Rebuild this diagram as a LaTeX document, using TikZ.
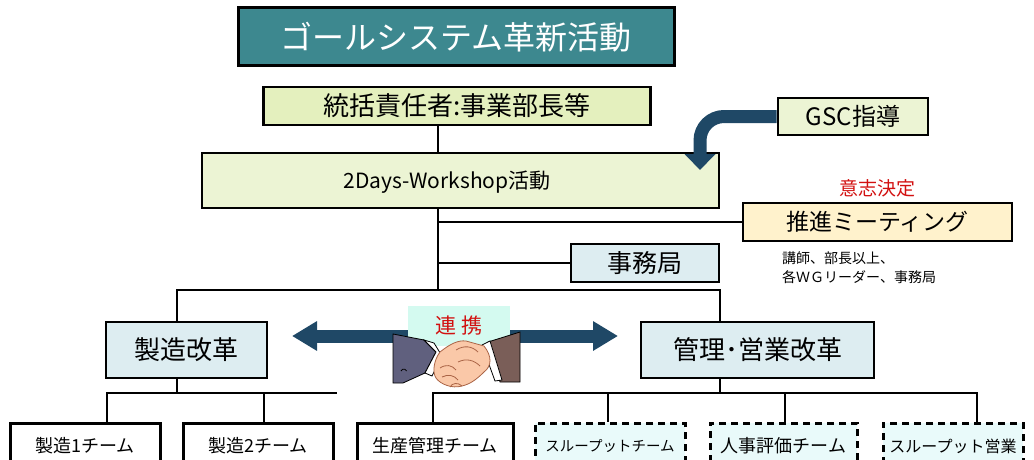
\documentclass[tikz,border=0pt]{standalone}
\usepackage{fontspec}
\setmainfont{Noto Sans CJK JP}
\usetikzlibrary{arrows.meta}

\definecolor{titlefill}{RGB}{61,136,143}
\definecolor{leadfill}{RGB}{228,240,190}
\definecolor{wsfill}{RGB}{236,244,212}
\definecolor{meetfill}{RGB}{255,242,204}
\definecolor{bluefill}{RGB}{221,237,241}
\definecolor{teamfill}{RGB}{233,250,250}
\definecolor{linkfill}{RGB}{212,250,240}
\definecolor{arrowblue}{RGB}{31,72,102}
\definecolor{redtxt}{RGB}{210,16,16}
\definecolor{sleeveL}{RGB}{96,96,126}
\definecolor{sleeveR}{RGB}{122,94,88}
\definecolor{skin}{RGB}{250,200,168}
\definecolor{skinline}{RGB}{170,100,70}

\newcommand{\fs}[1]{\fontsize{#1}{#1}\selectfont}

\begin{document}
\begin{tikzpicture}[x=1pt,y=-1pt,
  box/.style={draw, line width=2.7pt, inner sep=0pt},
  team/.style={box, line width=3pt, minimum height=46pt, font=\fs{18}},
  dteam/.style={team, fill=teamfill, dash pattern=on 7pt off 5pt},
  link/.style={line width=2pt},
  bigarrow/.style={draw=arrowblue, line width=13pt}]

  \useasboundingbox (0,0) rectangle (1034,460);

  % Titel
  \node[box, line width=3pt, fill=titlefill, text=white, minimum width=436pt, minimum height=58pt,
        font=\fs{32}] (title) at (456,37) {ゴールシステム革新活動};

  % Leitung und Workshop
  \node[box, fill=leadfill, minimum width=387pt, minimum height=38pt, font=\fs{26}]
       (lead) at (457,106) {統括責任者:事業部長等};
  \node[box, fill=wsfill, minimum width=517pt, minimum height=55pt] (ws) at (460.5,180.5) {};
  \node[font=\fs{21}] (wstext) at (447,182) {2Days-Workshop活動};

  % GSC und Pfeil
  \node[box, fill=wsfill, minimum width=150pt, minimum height=37pt, font=\fs{24}]
       (gsc) at (853,116.5) {GSC指導};
  \coordinate (gsctip) at (700,170);
  \draw[bigarrow, rounded corners=24pt, -{Triangle[width=30pt,length=16pt]}]
       (gsc.west) -| (gsctip);

  % Meeting
  \node[text=redtxt, font=\fs{19}] (ishi) at (877,188) {意志決定};
  \node[box, fill=meetfill, minimum width=269pt, minimum height=38pt, font=\fs{23}]
       (meet) at (877.5,222) {推進ミーティング};
  \node[anchor=north west, align=left, inner sep=0pt, font=\fontsize{14}{18.5}\selectfont]
       (note) at (782,252) {講師、部長以上、\\各ＷＧリーダー、事務局};

  % Sekretariat
  \node[box, fill=bluefill, minimum width=148pt, minimum height=38pt, font=\fs{25}]
       (jimu) at (645,263) {事務局};

  % Stamm
  \coordinate (trunk) at (438,290);
  \draw[link] (lead.south -| trunk) -- (ws.north -| trunk);
  \draw[link] (ws.south -| trunk) -- (trunk);
  \draw[link] (trunk |- meet) -- (meet.west);
  \draw[link] (trunk |- jimu) -- (jimu.west);

  % Reformbereiche
  \node[box, fill=bluefill, minimum width=161pt, minimum height=56pt, font=\fs{26}]
       (seizo) at (186.5,350) {製造改革};
  \node[box, fill=bluefill, minimum width=233pt, minimum height=56pt, font=\fs{26}]
       (kanri) at (757.5,350) {管理･営業改革};
  \coordinate (busL) at (177,290);
  \coordinate (busR) at (720,290);
  \draw[link] (seizo.north -| busL) -- (busL) -- (busR) -- (kanri.north -| busR);

  % Doppelpfeil
  \coordinate (tipL) at (292,336);
  \coordinate (tipR) at (618,336);
  \draw[bigarrow, {Triangle[width=28pt,length=25pt]}-{Triangle[width=28pt,length=25pt]}]
       (tipL) -- (tipR);

  % Handschlag
  \node[fill=linkfill, minimum width=102pt, minimum height=40pt, inner sep=0pt,
        text=redtxt, font=\fs{21}] (renkei) at (459,326) {連\hspace{6pt}携};
  \filldraw[fill=sleeveL, draw=black, line width=0.8pt]
       (393,334) -- (424,340) -- (436,352) -- (425,373) -- (403,383) -- (393,383) -- cycle;
  \draw[line width=0.8pt] (401,371) arc (200:340:3);
  \filldraw[fill=white, draw=black, line width=0.8pt]
       (424,340) -- (434,343) -- (442,356) -- (432,376) -- (425,373) -- (436,352) -- cycle;
  \filldraw[fill=sleeveR, draw=black, line width=0.8pt]
       (488,342) -- (520,332) -- (520,382) -- (500,382) -- cycle;
  \filldraw[fill=white, draw=black, line width=0.8pt]
       (482,345) -- (490,341) -- (502,380) -- (495,381) -- cycle;
  % Hand
  \filldraw[fill=skin, draw=skinline, line width=0.8pt]
       (440,352) .. controls (450,344) and (458,340) .. (466,341)
       -- (484,346) .. controls (492,356) and (492,366) .. (484,372)
       .. controls (476,380) and (470,384) .. (462,386)
       .. controls (452,389) and (440,384) .. (436,378)
       .. controls (432,372) and (434,360) .. (440,352) -- cycle;
  \draw[skinline, line width=0.8pt]
       (456,350) .. controls (464,345) and (472,346) .. (478,352)
       (440,368) .. controls (446,364) and (452,365) .. (456,370)
       (442,377) .. controls (448,374) and (454,375) .. (458,380)
       (458,362) .. controls (466,358) and (474,360) .. (480,366)
       (450,387) .. controls (452,383) and (458,382) .. (462,386);

  % Teams Fertigung
  \node[team, minimum width=150pt] (t1) at (85,446) {製造1チーム};
  \node[team, minimum width=150pt] (t2) at (258,446) {製造2チーム};
  \coordinate (lsub) at (177,393);
  \coordinate (lsubW) at (107,393);
  \coordinate (lsubM) at (264,393);
  \coordinate (lsubE) at (337,393);
  \draw[link] (seizo.south -| lsub) -- (lsub);
  \draw[link] (t1.north -| lsubW) -- (lsubW) -- (lsubE);
  \draw[link] (lsubM) -- (t2.north -| lsubM);

  % Teams Verwaltung
  \node[team, minimum width=156pt] (t3) at (435,446) {生産管理チーム};
  \node[dteam, minimum width=150pt, font=\fs{14.5}] (t4) at (610,446) {スループットチーム};
  \node[dteam, minimum width=147pt] (t5) at (783.5,446) {人事評価チーム};
  \node[dteam, minimum width=140pt, font=\fs{16}] (t6) at (953,446) {スループット営業};
  \coordinate (rsub) at (720,393);
  \coordinate (rsubW) at (433,393);
  \coordinate (rsubA) at (608,393);
  \coordinate (rsubB) at (785,393);
  \coordinate (rsubE) at (977,393);
  \draw[link] (kanri.south -| rsub) -- (rsub);
  \draw[link] (t3.north -| rsubW) -- (rsubW) -- (rsubE) -- (t6.north -| rsubE);
  \draw[link] (rsubA) -- (t4.north -| rsubA);
  \draw[link] (rsubB) -- (t5.north -| rsubB);
\end{tikzpicture}
\end{document}
